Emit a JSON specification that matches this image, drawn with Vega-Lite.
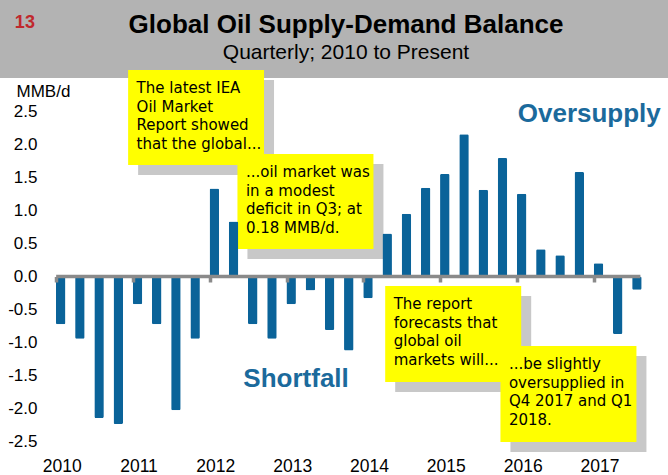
{
  "$schema": "https://vega.github.io/schema/vega-lite/v6.json",
  "width": 668,
  "height": 397,
  "autosize": {"type": "none"},
  "padding": {"left": 0, "right": 0, "top": 78, "bottom": 0},
  "background": "#b3b3b3",
  "config": {"view": {"stroke": null, "fill": "#ffffff"}},
  "title": {
    "text": "Global Oil Supply-Demand Balance",
    "subtitle": "Quarterly; 2010 to Present",
    "anchor": "middle",
    "frame": "group",
    "dx": 12,
    "offset": -49,
    "baseline": "top",
    "font": "Liberation Sans",
    "fontSize": 26,
    "fontWeight": "bold",
    "color": "#000000",
    "subtitleFont": "Liberation Sans",
    "subtitleFontSize": 21,
    "subtitleColor": "#000000",
    "subtitlePadding": 4
  },
  "resolve": {"axis": {"x": "independent", "y": "independent"}},
  "datasets": {
    "balance": [
      {"quarter": "2010 Q1", "t": 2010.0, "value": -0.72},
      {"quarter": "2010 Q2", "t": 2010.25, "value": -0.94},
      {"quarter": "2010 Q3", "t": 2010.5, "value": -2.14},
      {"quarter": "2010 Q4", "t": 2010.75, "value": -2.23},
      {"quarter": "2011 Q1", "t": 2011.0, "value": -0.42},
      {"quarter": "2011 Q2", "t": 2011.25, "value": -0.72},
      {"quarter": "2011 Q3", "t": 2011.5, "value": -2.02},
      {"quarter": "2011 Q4", "t": 2011.75, "value": -0.94},
      {"quarter": "2012 Q1", "t": 2012.0, "value": 1.33},
      {"quarter": "2012 Q2", "t": 2012.25, "value": 0.83},
      {"quarter": "2012 Q3", "t": 2012.5, "value": -0.72},
      {"quarter": "2012 Q4", "t": 2012.75, "value": -0.94},
      {"quarter": "2013 Q1", "t": 2013.0, "value": -0.42},
      {"quarter": "2013 Q2", "t": 2013.25, "value": -0.21},
      {"quarter": "2013 Q3", "t": 2013.5, "value": -0.81},
      {"quarter": "2013 Q4", "t": 2013.75, "value": -1.12},
      {"quarter": "2014 Q1", "t": 2014.0, "value": -0.33},
      {"quarter": "2014 Q2", "t": 2014.25, "value": 0.65},
      {"quarter": "2014 Q3", "t": 2014.5, "value": 0.95},
      {"quarter": "2014 Q4", "t": 2014.75, "value": 1.34},
      {"quarter": "2015 Q1", "t": 2015.0, "value": 1.55},
      {"quarter": "2015 Q2", "t": 2015.25, "value": 2.15},
      {"quarter": "2015 Q3", "t": 2015.5, "value": 1.31},
      {"quarter": "2015 Q4", "t": 2015.75, "value": 1.79},
      {"quarter": "2016 Q1", "t": 2016.0, "value": 1.25},
      {"quarter": "2016 Q2", "t": 2016.25, "value": 0.41},
      {"quarter": "2016 Q3", "t": 2016.5, "value": 0.32},
      {"quarter": "2016 Q4", "t": 2016.75, "value": 1.58},
      {"quarter": "2017 Q1", "t": 2017.0, "value": 0.2},
      {"quarter": "2017 Q2", "t": 2017.25, "value": -0.87},
      {"quarter": "2017 Q3", "t": 2017.5, "value": -0.2}
    ],
    "notes": [
      {"t1": 2010.878, "t2": 2012.647, "v1": 3.121, "v2": 1.685, "text": "The latest IEA\nOil Market\nReport showed\nthat the global..."},
      {"t1": 2012.301, "t2": 2014.071, "v1": 1.851, "v2": 0.416, "text": "...oil market was\nin a modest\ndeficit in Q3; at\n0.18 MMB/d."},
      {"t1": 2014.224, "t2": 2015.994, "v1": -0.144, "v2": -1.594, "text": "The report\nforecasts that\nglobal oil\nmarkets will..."},
      {"t1": 2015.724, "t2": 2017.494, "v1": -1.05, "v2": -2.501, "text": "...be slightly\noversupplied in\nQ4 2017 and Q1\n2018."}
    ],
    "labels": [
      {"t": 2016.88, "v": 2.339, "text": "Oversupply"},
      {"t": 2013.064, "v": -1.665, "text": "Shortfall"}
    ],
    "slide": [
      {"t": 2009.404, "v": 3.756, "text": "13"}
    ]
  },
  "layer": [
    {
      "data": {"name": "notes"},
      "mark": {"type": "rect", "color": "#c8c8c8", "xOffset": 10, "x2Offset": 10, "yOffset": 10, "y2Offset": 10},
      "encoding": {
        "x": {"field": "t1", "type": "quantitative", "scale": {"domain": [2009.2756, 2017.8397], "nice": false, "zero": false}, "axis": null},
        "x2": {"field": "t2"},
        "y": {"field": "v1", "type": "quantitative", "scale": {"domain": [-3, 3], "nice": false, "zero": false}, "axis": null},
        "y2": {"field": "v2"}
      }
    },
    {
      "data": {"name": "notes"},
      "mark": {"type": "rect", "color": "#ffff00"},
      "encoding": {
        "x": {"field": "t1", "type": "quantitative", "scale": {"domain": [2009.2756, 2017.8397], "nice": false, "zero": false}, "axis": null},
        "x2": {"field": "t2"},
        "y": {"field": "v1", "type": "quantitative", "scale": {"domain": [-3, 3], "nice": false, "zero": false}, "axis": null},
        "y2": {"field": "v2"}
      }
    },
    {
      "data": {"name": "balance"},
      "mark": {"type": "bar", "color": "#0a6399", "size": 9.5, "cornerRadius": 1.5},
      "encoding": {
        "x": {
          "field": "t", "type": "quantitative",
          "scale": {"domain": [2009.2756, 2017.8397], "nice": false, "zero": false},
          "title": null,
          "axis": {
            "values": [2010, 2011, 2012, 2013, 2014, 2015, 2016, 2017],
            "format": "d",
            "orient": "bottom",
            "offset": -198.5,
            "zindex": 1,
            "domain": false,
            "grid": false,
            "ticks": true,
            "tickSize": 5.5,
            "tickWidth": 3.5,
            "tickColor": "#8a8a8a",
            "tickOffset": -4.5,
            "labelOffset": 5.5,
            "labelPadding": 189.5,
            "labelBaseline": "alphabetic",
            "labelFont": "Liberation Sans",
            "labelFontSize": 17.5,
            "labelColor": "#000000",
            "labelFlush": false,
            "labelOverlap": false
          }
        },
        "y": {
          "field": "value", "type": "quantitative",
          "scale": {"domain": [-3, 3], "nice": false, "zero": false},
          "title": "MMB/d",
          "axis": {
            "values": [-2.5, -2, -1.5, -1, -0.5, 0, 0.5, 1, 1.5, 2, 2.5],
            "labelExpr": "replace(format(datum.value, '.1f'), '\u2212', '-')",
            "orient": "left",
            "offset": -40,
            "domain": false,
            "ticks": false,
            "tickSize": 0,
            "grid": false,
            "labelPadding": 3,
            "labelFont": "Liberation Sans",
            "labelFontSize": 17,
            "labelColor": "#000000",
            "labelOverlap": false,
            "labelFlush": false,
            "titleAngle": 0,
            "titleAlign": "left",
            "titleBaseline": "alphabetic",
            "titleX": -24,
            "titleY": 18.7,
            "titleFont": "Liberation Sans",
            "titleFontSize": 17,
            "titleFontWeight": "normal",
            "titleColor": "#000000"
          }
        }
      }
    },
    {
      "data": {"name": "balance"},
      "mark": {"type": "rule", "color": "#8a8a8a", "strokeWidth": 3.5, "xOffset": -4.5, "x2Offset": 3.5},
      "encoding": {
        "x": {"aggregate": "min", "field": "t", "type": "quantitative", "scale": {"domain": [2009.2756, 2017.8397], "nice": false, "zero": false}, "axis": null},
        "x2": {"aggregate": "max", "field": "t"},
        "y": {"datum": 0, "type": "quantitative", "scale": {"domain": [-3, 3], "nice": false, "zero": false}, "axis": null}
      }
    },
    {
      "data": {"name": "notes"},
      "mark": {"type": "text", "align": "left", "baseline": "alphabetic", "dx": 8.5, "dy": 23, "font": "DejaVu Sans", "fontSize": 15, "lineHeight": 18.7, "lineBreak": "\n", "color": "#000000"},
      "encoding": {
        "x": {"field": "t1", "type": "quantitative", "scale": {"domain": [2009.2756, 2017.8397], "nice": false, "zero": false}, "axis": null},
        "y": {"field": "v1", "type": "quantitative", "scale": {"domain": [-3, 3], "nice": false, "zero": false}, "axis": null},
        "text": {"field": "text"}
      }
    },
    {
      "data": {"name": "labels"},
      "mark": {"type": "text", "align": "center", "baseline": "alphabetic", "font": "Liberation Sans", "fontSize": 26, "fontWeight": "bold", "color": "#1b6a9c"},
      "encoding": {
        "x": {"field": "t", "type": "quantitative", "scale": {"domain": [2009.2756, 2017.8397], "nice": false, "zero": false}, "axis": null},
        "y": {"field": "v", "type": "quantitative", "scale": {"domain": [-3, 3], "nice": false, "zero": false}, "axis": null},
        "text": {"field": "text"}
      }
    },
    {
      "data": {"name": "slide"},
      "mark": {"type": "text", "align": "left", "baseline": "alphabetic", "font": "Liberation Sans", "fontSize": 18, "fontWeight": "bold", "color": "#c0282d"},
      "encoding": {
        "x": {"field": "t", "type": "quantitative", "scale": {"domain": [2009.2756, 2017.8397], "nice": false, "zero": false}, "axis": null},
        "y": {"field": "v", "type": "quantitative", "scale": {"domain": [-3, 3], "nice": false, "zero": false}, "axis": null},
        "text": {"field": "text"}
      }
    }
  ]
}
